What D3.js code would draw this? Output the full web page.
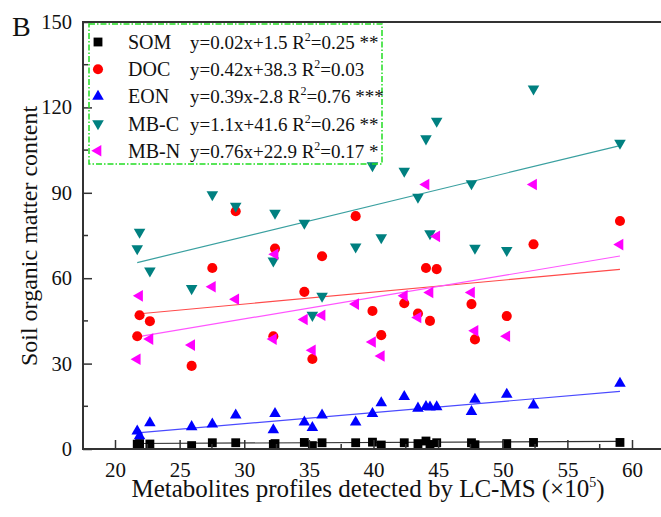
<!DOCTYPE html>
<html><head><meta charset="utf-8">
<script src="https://cdn.jsdelivr.net/npm/d3@7"></script>
<style>body{margin:0;background:#fff}svg{display:block}text{font-family:"Liberation Serif","Times New Roman",serif;fill:#111}</style>
</head><body><svg id="c" width="661" height="517"></svg>
<script>
const xValues = [21.72,21.9,22.7,25.93,27.53,29.34,32.25,32.38,34.65,35.27,36.02,38.62,39.92,40.6,42.38,43.44,44.06,44.37,44.89,47.58,47.85,50.31,52.38,59.07];
const somValues = [1.7,1.9,1.75,1.2,2.2,2.2,1.6,1.9,2.3,1.2,2.2,2.2,2.4,1.4,2.2,1.9,2.8,1.6,2.2,2.2,1.5,1.9,2.3,2.3];
const docValues = [39.6,47.0,44.9,29.2,63.6,83.5,39.6,70.4,55.2,31.6,67.7,81.8,48.5,40.0,51.2,47.6,63.6,45.0,63.2,50.9,38.5,46.7,71.9,80.1];
const eonValues = [6.3,4.6,9.2,7.8,8.7,11.9,6.7,12.4,9.4,7.5,11.9,9.4,12.4,16.2,18.4,14.3,14.9,14.7,14.8,13.1,17.4,19.2,15.4,23.0];
const mbcValues = [70.4,76.2,62.6,56.4,89.4,85.3,66.1,82.9,79.4,47.0,53.7,71.0,99.6,74.3,97.6,88.5,109.0,75.7,115.2,93.2,70.6,69.8,126.5,107.5];
const mbnValues = [31.5,53.8,38.6,36.5,57.0,52.6,38.6,68.4,45.5,34.7,47.0,50.9,37.6,32.7,53.8,46.2,92.9,55.0,74.7,55.0,41.5,39.6,92.9,71.8];
const seriesNames = ["SOM","DOC","EON","MB-C","MB-N"];
const slopes = [0.02,0.42,0.39,1.1,0.76];
const intercepts = [1.5,38.3,-2.8,41.6,22.9];
const eqLabels = ["y=0.02x+1.5","y=0.42x+38.3","y=0.39x-2.8","y=1.1x+41.6","y=0.76x+22.9"];
const r2Labels = ["=0.25 **","=0.03","=0.76 ***","=0.26 **","=0.17 *"];
const xTicks = [20,25,30,35,40,45,50,55,60];
const yTicks = [0,30,60,90,120,150];

const colors = ["#000000","#ff0000","#0000ff","#008080","#ff00ff"];
const lineColors = ["#333333","#ff4a4a","#4a4aff","#3aa0a0","#ff55ff"];
const values = [somValues,docValues,eonValues,mbcValues,mbnValues];
const shapes = [
  {t:d3.symbolSquare,s:78,r:0},
  {t:d3.symbolCircle,s:80,r:0},
  {t:d3.symbolTriangle,s:58,r:0},
  {t:d3.symbolTriangle,s:58,r:180},
  {t:d3.symbolTriangle,s:58,r:-90}
];

const svg = d3.select("#c");
const x = d3.scaleLinear().domain([20,60]).range([115,632]);
const y = d3.scaleLinear().domain([0,150]).range([449,22]);
const L = 83, R = 700, T = 22, B = 449;

// regression lines
const xmin = d3.min(xValues), xmax = d3.max(xValues);
seriesNames.forEach((n,i)=>{
  svg.append("line").attr("x1",x(xmin)).attr("x2",x(xmax))
    .attr("y1",y(slopes[i]*xmin+intercepts[i])).attr("y2",y(slopes[i]*xmax+intercepts[i]))
    .attr("stroke",lineColors[i]).attr("stroke-width",1.2);
});

// points
seriesNames.forEach((n,i)=>{
  const sh = shapes[i];
  svg.append("g").selectAll("path").data(values[i]).join("path")
    .attr("d",d3.symbol().type(sh.t).size(sh.s))
    .attr("transform",(d,j)=>`translate(${x(xValues[j])},${y(d)}) rotate(${sh.r})`)
    .attr("fill",colors[i]);
});

// axes frame
const axisColor = "#333";
svg.append("line").attr("x1",L).attr("x2",R).attr("y1",T).attr("y2",T).attr("stroke",axisColor).attr("stroke-width",2);
svg.append("line").attr("x1",L).attr("x2",L).attr("y1",T-1).attr("y2",B+1).attr("stroke",axisColor).attr("stroke-width",2);
svg.append("line").attr("x1",L-1).attr("x2",R).attr("y1",B).attr("y2",B).attr("stroke",axisColor).attr("stroke-width",2);

// x ticks
const xAxis = d3.axisBottom(x).tickValues(xTicks).tickSize(-9).tickPadding(13);
const gx = svg.append("g").attr("transform",`translate(0,${B})`).call(xAxis);
gx.select(".domain").remove();
gx.selectAll("line").attr("stroke",axisColor).attr("stroke-width",1.5);
gx.selectAll("text").attr("font-size",21).attr("font-family","Liberation Serif").attr("fill","#111");
const xMinor = d3.range(22.5,61,5);
svg.append("g").selectAll("line").data(xMinor).join("line")
  .attr("x1",d=>x(d)).attr("x2",d=>x(d)).attr("y1",B).attr("y2",B-5)
  .attr("stroke",axisColor).attr("stroke-width",1.5);

// y ticks
const yAxis = d3.axisLeft(y).tickValues(yTicks).tickSize(-9).tickPadding(11);
const gy = svg.append("g").attr("transform",`translate(${L},0)`).call(yAxis);
gy.select(".domain").remove();
gy.selectAll("line").attr("stroke",axisColor).attr("stroke-width",1.5);
gy.selectAll("text").attr("font-size",20.5).attr("font-family","Liberation Serif").attr("fill","#111");
const yMinor = d3.range(15,150,30);
svg.append("g").selectAll("line").data(yMinor).join("line")
  .attr("x1",L).attr("x2",L+5).attr("y1",d=>y(d)).attr("y2",d=>y(d))
  .attr("stroke",axisColor).attr("stroke-width",1.5);

// legend
svg.append("rect").attr("x",89).attr("y",24).attr("width",293).attr("height",140)
  .attr("fill","none").attr("stroke","#22dd22").attr("stroke-width",1.5)
  .attr("stroke-dasharray","6,2,1.5,2");
seriesNames.forEach((n,i)=>{
  const cy = 42 + i*27.2;
  const sh = shapes[i];
  svg.append("path").attr("d",d3.symbol().type(sh.t).size(sh.s))
    .attr("transform",`translate(98,${cy}) rotate(${sh.r})`).attr("fill",colors[i]);
  svg.append("text").attr("x",128).attr("y",cy+7).attr("font-size",20).text(n);
  const t = svg.append("text").attr("x",190).attr("y",cy+7).attr("font-size",19);
  t.append("tspan").text(eqLabels[i]+" R");
  t.append("tspan").attr("dy",-8).attr("font-size",12).text("2");
  t.append("tspan").attr("dy",8).text(r2Labels[i]);
});

// titles
svg.append("text").attr("x",12).attr("y",36).attr("font-size",28).text("B");
const xt = svg.append("text").attr("x",368).attr("y",497).attr("text-anchor","middle").attr("font-size",25);
xt.append("tspan").text("Metabolites profiles detected by LC-MS (×10");
xt.append("tspan").attr("dy",-10).attr("font-size",14).text("5");
xt.append("tspan").attr("dy",10).text(")");
svg.append("text").attr("transform","translate(37,236) rotate(-90)").attr("text-anchor","middle")
  .attr("font-size",24).text("Soil organic matter content");
</script></body></html>
